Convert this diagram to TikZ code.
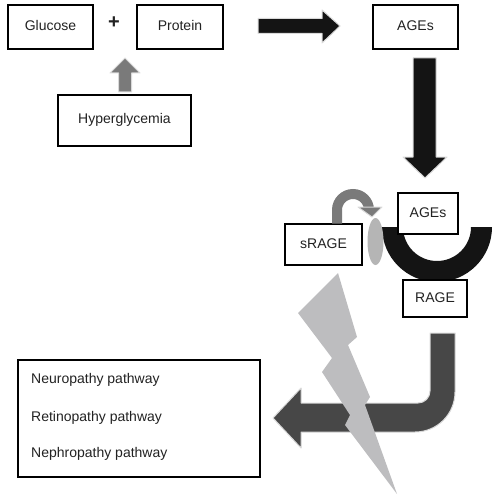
\documentclass[tikz,border=0pt]{standalone}
\usepackage{fontspec}
\setmainfont{Liberation Sans}
\definecolor{blk}{HTML}{141414}
\definecolor{darkarrow}{HTML}{474747}
\definecolor{midgray}{HTML}{7A7A7A}
\definecolor{boltgray}{HTML}{BDBDBF}
\definecolor{blobgray}{HTML}{B5B5B5}
\definecolor{txt}{HTML}{222222}
\begin{document}
\begin{tikzpicture}[x=1pt,y=-1pt,
  box/.style={draw=black,line width=1.3pt,fill=white,inner sep=0pt,outer sep=0pt,
    text=txt,font=\fontsize{14}{16}\selectfont,text height=10pt,text depth=3pt},
  halo/.style={draw=black!15,line width=1pt,line join=round},
  listtext/.style={anchor=base west,inner sep=0pt,text=txt,font=\fontsize{14}{16}\selectfont}]
\useasboundingbox (0,0) rectangle (499,500);

% boxes of the top row
\node[box,minimum width=85pt,minimum height=44pt] (gluc) at (50.5,27) {Glucose};
\node[box,minimum width=86pt,minimum height=44pt] (prot) at (180,27) {Protein};
\node[box,minimum width=85pt,minimum height=44pt] (agesA) at (415.5,27) {AGEs};
\node[box,minimum width=133pt,minimum height=51pt] (hyper) at (124.5,120.5) {Hyperglycemia};
\node[inner sep=0pt,text=txt,font=\fontsize{20}{20}\selectfont\bfseries] (plus) at (114,22.5) {+};

% gray up arrow (hyperglycemia -> reaction)
\filldraw[fill=midgray,halo] (118.5,92) -- (131.5,92) -- (131.5,73) -- (140,73) -- (125,58)
  -- (110,73) -- (118.5,73) -- cycle;
% black right arrow
\filldraw[fill=blk,halo] (258,18.5) -- (322,18.5) -- (322,10) -- (340,26) -- (322,43)
  -- (322,33.5) -- (258,33.5) -- cycle;
% black down arrow
\filldraw[fill=blk,halo] (413,58) -- (436,58) -- (436,157) -- (447,157) -- (425,178)
  -- (403,157) -- (413,157) -- cycle;

% receptor (black half ring)
\fill[blk] (382,227) arc[start angle=180,end angle=0,radius=55] -- (471,227)
  arc[start angle=0,end angle=180,radius=34] -- cycle;
% soluble receptor blob
\fill[blobgray] (375.5,241.5) ellipse[x radius=8,y radius=23.5];

\node[box,minimum width=60pt,minimum height=41pt] (agesB) at (428,213.5) {AGEs};
\node[box,minimum width=77pt,minimum height=41pt] (srage) at (323.5,244.5) {sRAGE};
\node[box,minimum width=64pt,minimum height=37pt] (rage) at (435,298.5) {RAGE};

% gray curved arrow from sRAGE
\draw[midgray,line width=10pt] (337,223.5) -- (337,210) arc[start angle=180,end angle=360,radius=16];
\filldraw[fill=midgray,halo] (358,207) -- (382,207) -- (372,217) -- cycle;

% dark bent arrow from RAGE
\filldraw[fill=darkarrow,halo] (430,333) -- (455,333) -- (455,392)
  arc[start angle=0,end angle=90,radius=40] -- (301,432) -- (301,448) -- (273,418)
  -- (301,388) -- (301,403) -- (418,403) arc[start angle=90,end angle=0,radius=12]
  -- cycle;

% lightning bolt
\fill[boltgray] (338,273) -- (298,313) -- (332,358) -- (322,372) -- (350,415) -- (345,425)
  -- (397,494) -- (365,405) -- (370,397) -- (348,345) -- (357,337) -- cycle;

% pathway box
\node[box,minimum width=242pt,minimum height=117pt] (paths) at (139,418.5) {};
\node[listtext] (neuro) at (31,383) {Neuropathy pathway};
\node[listtext] (retino) at (31,421) {Retinopathy pathway};
\node[listtext] (nephro) at (31,457) {Nephropathy pathway};
\end{tikzpicture}
\end{document}
